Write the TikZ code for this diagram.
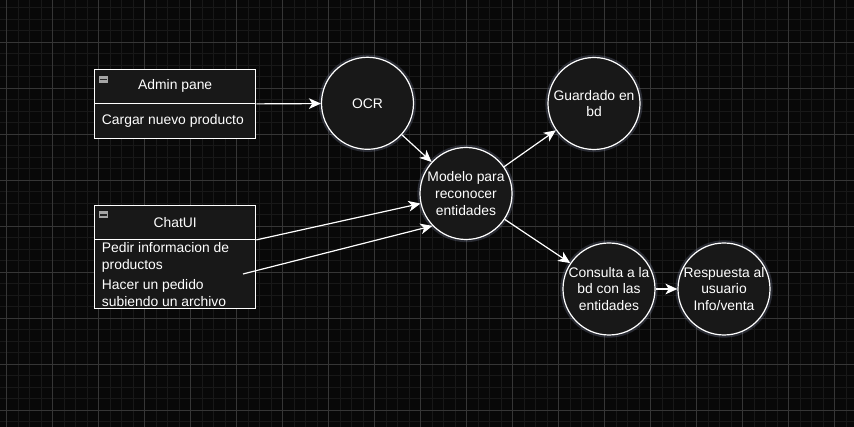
\documentclass[tikz,border=0pt]{standalone}
\usepackage{fontspec}
\setmainfont{Liberation Sans}
\usetikzlibrary{arrows.meta}
\definecolor{bgc}{HTML}{080808}
\definecolor{minorc}{HTML}{181818}
\definecolor{majorc}{HTML}{363636}
\definecolor{nodefill}{HTML}{181818}
\definecolor{glowc}{HTML}{8890B0}
\newcommand\dfont{\fontsize{10.4pt}{12.5pt}\selectfont}
\begin{document}
\begin{tikzpicture}[x=0.75pt,y=-0.75pt,
  proc/.style={circle, draw=white, line width=0.9pt, fill=nodefill, minimum size=69pt,
    inner sep=0pt, align=center, text=white, font=\dfont},
  glow/.style={circle, draw=glowc, draw opacity=0.25, line width=2.5pt, minimum size=70.5pt, inner sep=0pt},
  lanebox/.style={rectangle, draw=white, line width=0.9pt, fill=nodefill, minimum width=120.75pt,
    inner sep=0pt, text=white, font=\dfont},
  item/.style={anchor=west, inner sep=0pt, align=left, text=white, font=\dfont},
  link/.style={draw=white, line width=0.9pt, -{Stealth[length=9pt,width=8pt,inset=2.5pt]}}
]
\useasboundingbox (0,0) rectangle (854,427);
\fill[bgc] (0,0) rectangle (854,427);
\begin{scope}
\clip (0,0) rectangle (854,427);
\foreach \k in {0,...,73} { \draw[minorc, line width=0.6pt] (6.5+11.5*\k,0) -- (6.5+11.5*\k,427); }
\foreach \k in {0,...,37} { \draw[minorc, line width=0.6pt] (0,7.5+11.5*\k) -- (854,7.5+11.5*\k); }
\foreach \k in {0,...,18} { \draw[majorc, line width=0.6pt] (6.5+46*\k,0) -- (6.5+46*\k,427); }
\foreach \k in {0,...,8} { \draw[majorc, line width=0.6pt] (0,42+46*\k) -- (854,42+46*\k); }
\end{scope}

% glows
\foreach \p in {(367.5,103.3),(466,193.5),(594,103.5),(609,289),(724,289)} { \node[glow] at \p {}; }

% Admin pane lane
\node[lanebox, minimum height=25.5pt] (adminH) at (175.2,86.3) {Admin pane};
\node[lanebox, minimum height=26.25pt] (adminB) at (175.2,120.8) {};
\node[item] (adminI) at (101.7,120.5) {Cargar nuevo producto};
\fill[gray!70] (99.3,76) rectangle (108.3,83);
\draw[gray!30!black, line width=1pt] (100.3,79.5) -- (107.3,79.5);

% ChatUI lane
\node[lanebox, minimum height=25.5pt] (chatH) at (175.2,222.3) {ChatUI};
\node[lanebox, minimum height=51.75pt] (chatB) at (175.2,273.8) {};
\node[item] (chatI1) at (101.7,257.5) {Pedir informacion de\\productos};
\node[item] (chatI2) at (101.7,293.2) {Hacer un pedido\\subiendo un archivo};
\fill[gray!70] (99.3,211.5) rectangle (108.3,218.5);
\draw[gray!30!black, line width=1pt] (100.3,215) -- (107.3,215);

% process nodes
\node[proc] (ocr) at (367.5,103.3) {OCR};
\node[proc] (modelo) at (466,193.5) {Modelo para\\reconocer\\entidades};
\node[proc] (guardado) at (594,103.5) {Guardado en\\bd};
\node[proc] (consulta) at (609,289) {Consulta a la\\bd con las\\entidades};
\node[proc] (respuesta) at (724,289) {Respuesta al\\usuario\\Info/venta};

\coordinate (c2) at (243,274);

% connectors
\draw[link] (adminH.south east) -- (ocr);
\draw[link] (ocr) -- (modelo);
\draw[link] (chatH.south east) -- (modelo);
\draw[link] (c2) -- (modelo.224);
\draw[link] (modelo) -- (guardado);
\draw[link] (modelo) -- (consulta);
\draw[link] (consulta) -- (respuesta);
\end{tikzpicture}
\end{document}
